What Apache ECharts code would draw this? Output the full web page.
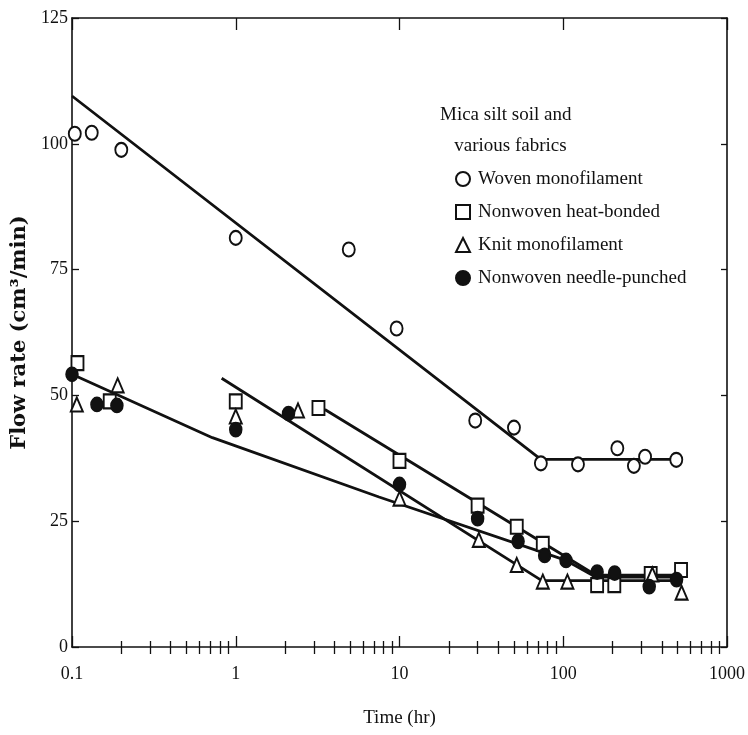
<!DOCTYPE html>
<html>
<head>
<meta charset="utf-8">
<script src="https://cdn.jsdelivr.net/npm/echarts@6/dist/echarts.min.js"></script>
<style>
  html, body { margin: 0; padding: 0; background: #fff; }
  #chart { width: 748px; height: 735px; }
</style>
</head>
<body>
<div id="chart"></div>
<script>
// measured points, time (hr) vs flow rate (cm3/min)
const wovenTime = [0.104, 0.132, 0.2, 1.0, 4.9, 9.6, 29, 50, 73, 123, 214, 270, 316, 490]
const wovenFlow = [102, 102.2, 98.8, 81.3, 79, 63.3, 45, 43.6, 36.5, 36.3, 39.5, 36, 37.8, 37.2]

const heatTime = [0.108, 0.17, 1.0, 3.2, 10, 30, 52, 75, 161, 205, 342, 524]
const heatFlow = [56.4, 48.8, 48.8, 47.5, 37, 28.1, 23.9, 20.5, 12.3, 12.3, 14.5, 15.3]

const knitTime = [0.107, 0.19, 1.0, 2.4, 10, 30.5, 52, 75, 106, 350, 528]
const knitFlow = [48.2, 52, 45.8, 47, 29.5, 21.3, 16.3, 13, 13, 14.4, 10.8]

const needleTime = [0.1, 0.142, 0.188, 1.0, 2.1, 10, 30, 53, 77, 104, 161, 206, 335, 492]
const needleFlow = [54.2, 48.2, 48, 43.2, 46.4, 32.3, 25.5, 21, 18.2, 17.2, 14.9, 14.7, 12, 13.4]

// fitted lines (break points)
const wovenFitTime = [0.1, 73, 490]
const wovenFitFlow = [109.5, 37.3, 37.3]
const heatFitTime = [3.5, 165, 524]
const heatFitFlow = [47.2, 13.9, 13.9]
const knitFitTime = [0.82, 74, 528]
const knitFitFlow = [53.4, 13.2, 13.2]
const needleFitTime = [0.1, 0.72, 7.5, 104, 150, 492]
const needleFitFlow = [54.2, 41.6, 29.8, 17.2, 14.3, 14.3]

const majorTicks = [0.1, 1, 10, 100, 1000]
const minorTicks = [0.2, 0.3, 0.4, 0.5, 0.6, 0.7, 0.8, 0.9,
  2, 3, 4, 5, 6, 7, 8, 9,
  20, 30, 40, 50, 60, 70, 80, 90,
  200, 300, 400, 500, 600, 700, 800, 900]

const legendNames = ['Woven monofilament', 'Nonwoven heat-bonded', 'Knit monofilament', 'Nonwoven needle-punched']

function pairs(xs, ys) {
  return xs.map((x, i) => [x, ys[i]])
}

const font = 'Liberation Serif'
const ink = '#111'

function logAxis(pos, ticks, len, extra) {
  return Object.assign({
    type: 'log',
    logBase: 10,
    min: 0.1,
    max: 1000,
    position: pos,
    axisLine: { show: true, onZero: false, lineStyle: { color: ink, width: 1.6 } },
    axisTick: { show: true, inside: true, length: len, customValues: ticks, lineStyle: { color: ink, width: 1.3 } },
    axisLabel: { show: false },
    splitLine: { show: false },
    minorTick: { show: false }
  }, extra || {})
}

function valAxis(pos, extra) {
  return Object.assign({
    type: 'value',
    min: 0,
    max: 125,
    interval: 25,
    position: pos,
    axisLine: { show: true, lineStyle: { color: ink, width: 1.6 } },
    axisTick: { show: true, inside: true, length: 7, lineStyle: { color: ink, width: 1.3 } },
    axisLabel: { show: false },
    splitLine: { show: false }
  }, extra || {})
}

const fitStyle = { color: ink, width: 2.8 }

function fit(xs, ys) {
  return {
    type: 'line',
    data: pairs(xs, ys),
    showSymbol: false,
    symbol: 'none',
    lineStyle: fitStyle,
    silent: true,
    z: 1
  }
}

function pts(name, symbol, xs, ys) {
  return {
    name: name,
    type: 'scatter',
    symbol: symbol,
    symbolSize: [12, 14],
    itemStyle: { color: ink, borderColor: ink, borderWidth: 1.6, opacity: 1 },
    data: pairs(xs, ys),
    z: 3
  }
}

const chart = echarts.init(document.getElementById('chart'))
chart.setOption({
  backgroundColor: '#fff',
  animation: false,
  textStyle: { fontFamily: font, color: ink },
  grid: { left: 72, right: 19, top: 18, bottom: 88 },
  title: {
    text: 'Mica silt soil and\n   various fabrics',
    left: 435,
    top: 95,
    textStyle: { fontFamily: font, fontWeight: 'normal', fontSize: 19, lineHeight: 31, color: ink }
  },
  legend: {
    data: legendNames,
    orient: 'vertical',
    left: 450,
    top: 164,
    itemWidth: 14,
    itemHeight: 14,
    itemGap: 13,
    textStyle: { fontFamily: font, fontSize: 19, lineHeight: 20, color: ink, padding: [0, 0, 0, 3] }
  },
  xAxis: [
    logAxis('bottom', majorTicks, 11, {
      name: 'Time (hr)',
      nameLocation: 'middle',
      nameGap: 62,
      nameTextStyle: { fontFamily: font, fontSize: 19, color: ink },
      axisLabel: {
        show: true,
        customValues: majorTicks,
        margin: 18,
        fontFamily: font,
        fontSize: 18,
        color: ink,
        formatter: v => String(v)
      }
    }),
    logAxis('bottom', minorTicks, 6, { axisLine: { show: false } }),
    logAxis('top', majorTicks, 12),
    logAxis('top', minorTicks, 7, { axisLine: { show: false } })
  ],
  yAxis: [
    valAxis('left', {
      name: 'Flow rate (cm³/min)',
      nameLocation: 'middle',
      nameRotate: 90,
      nameGap: 40,
      nameTextStyle: { fontFamily: 'DejaVu Serif', fontWeight: 'bold', fontSize: 21, color: ink },
      axisLabel: { show: true, margin: 4, fontFamily: font, fontSize: 18, color: ink }
    }),
    valAxis('right', { axisTick: { show: true, inside: true, length: 6, lineStyle: { color: ink, width: 1.3 } } })
  ],
  series: [
    fit(wovenFitTime, wovenFitFlow),
    fit(heatFitTime, heatFitFlow),
    fit(knitFitTime, knitFitFlow),
    fit(needleFitTime, needleFitFlow),
    pts(legendNames[0], 'emptyCircle', wovenTime, wovenFlow),
    pts(legendNames[1], 'emptyRect', heatTime, heatFlow),
    pts(legendNames[2], 'emptyTriangle', knitTime, knitFlow),
    pts(legendNames[3], 'circle', needleTime, needleFlow)
  ]
})
</script>
</body>
</html>
